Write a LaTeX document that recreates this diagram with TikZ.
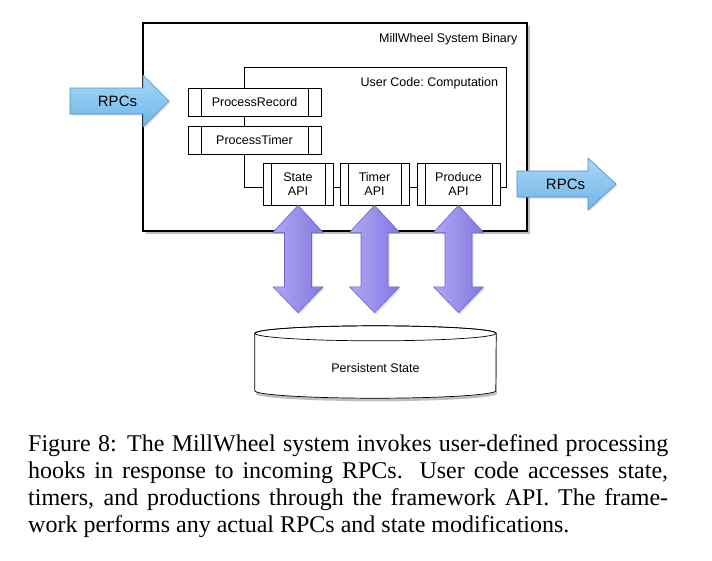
\documentclass[tikz,border=0pt]{standalone}
\usepackage{fontspec}
\setmainfont{Liberation Serif}
\newfontfamily\diagfont{Liberation Sans}
\usepackage{tikz}
\usetikzlibrary{calc}
\usetikzlibrary{shadows}

\definecolor{rpcfill}{HTML}{6DB6E8}
\definecolor{rpctop}{HTML}{A9D7F6}
\definecolor{rpcline}{HTML}{4E8FC6}
\definecolor{apileft}{HTML}{AFA7F3}
\definecolor{apiright}{HTML}{8478E0}
\definecolor{apiline}{HTML}{6E62D2}

\tikzset{
  hook/.style={draw=black, fill=white, line width=0.7pt, inner sep=0pt,
    font=\diagfont\frenchspacing\fontsize{12.5}{14}\selectfont,
    path picture={
      \draw[line width=0.7pt] ([xshift=#1]path picture bounding box.south west) -- ([xshift=#1]path picture bounding box.north west);
      \draw[line width=0.7pt] ([xshift=-#1]path picture bounding box.south east) -- ([xshift=-#1]path picture bounding box.north east);
    }},
  processbox/.style={hook=13pt, minimum width=133pt, minimum height=28pt},
  apibox/.style={hook=8pt, minimum height=42pt, align=center},
  rpcarrow/.style={draw=rpcline, line width=0.6pt, top color=rpctop, bottom color=rpcfill,
    drop shadow={shadow xshift=1.5pt, shadow yshift=-1.5pt, opacity=0.25}},
  apiarrow/.style={draw=apiline, line width=0.6pt, left color=apileft, right color=apiright,
    drop shadow={shadow xshift=1.5pt, shadow yshift=-1.5pt, opacity=0.25}},
  boxlabel/.style={inner sep=0pt, font=\diagfont\frenchspacing\fontsize{12.5}{14}\selectfont},
}

\begin{document}
\begin{tikzpicture}[x=1pt, y=1pt]
            \useasboundingbox[fill=white] (0,0) rectangle (712,-560);

            % Place the binary and the user code frame
            \node[draw=black, fill=white, line width=1.1pt, minimum width=384pt, minimum height=208pt,
              drop shadow={shadow xshift=3pt, shadow yshift=-3pt, opacity=0.5}] (binary) at (335,-127) {};
            \node[boxlabel, anchor=base east] (binarylabel) at ([xshift=-10pt, yshift=-20pt]binary.north east) {MillWheel System Binary};
            \node[draw=black, line width=0.7pt, minimum width=262pt, minimum height=120pt] (usercode) at (375,-127) {};
            \node[boxlabel, anchor=base east] (usercodelabel) at ([xshift=-8pt, yshift=-20pt]usercode.north east) {User Code: Computation};

            % Place the hooks and the APIs
            \node[processbox] (procrecord) at (254.5,-102) {ProcessRecord};
            \node[processbox] (proctimer) at (254.5,-140) {ProcessTimer};
            \node[apibox, minimum width=70pt] (stateapi) at (298,-184) {State\\API};
            \node[apibox, minimum width=69pt] (timerapi) at (374.5,-184) {Timer\\API};
            \node[apibox, minimum width=83pt] (produceapi) at (458.5,-184) {Produce\\API};

            % The RPCs in and out
            \coordinate (rpcintip) at (169,-101);
            \coordinate (rpcouttip) at (616,-184);
            \path[rpcarrow] (rpcintip) -- ++(-26,26) -- ++(0,-13) -- ++(-73,0) -- ++(0,-26) -- ++(73,0) -- ++(0,-13) -- cycle;
            \path[rpcarrow] (rpcouttip) -- ++(-28,26) -- ++(0,-13) -- ++(-71,0) -- ++(0,-26) -- ++(71,0) -- ++(0,-13) -- cycle;
            \node[boxlabel, font=\diagfont\fontsize{15}{17}\selectfont] (rpcin) at (117.5,-101) {RPCs};
            \node[boxlabel, font=\diagfont\fontsize{15}{17}\selectfont] (rpcout) at (565.5,-184) {RPCs};

            % The persistent state
            \node[minimum width=241pt, minimum height=72pt, inner sep=0pt] (store) at (375.5,-362) {};
            \draw[line width=0.7pt, fill=white, drop shadow={shadow xshift=1pt, shadow yshift=-3pt, opacity=0.5}]
              ([yshift=-7.5pt]store.north west) -- ([yshift=7.5pt]store.south west)
              arc[start angle=180, end angle=360, x radius=120.5, y radius=7.5]
              -- ([yshift=-7.5pt]store.north east)
              arc[start angle=0, end angle=180, x radius=120.5, y radius=7.5] -- cycle;
            \draw[line width=0.7pt] ([yshift=-7.5pt]store.north) ellipse[x radius=120.5, y radius=7.5];
            \node[boxlabel] (storelabel) at ([yshift=-6pt]store.center) {Persistent State};

            % The lines!
            \foreach \api in {stateapi,timerapi,produceapi} {
              \path[apiarrow] let \p1=(\api.south), \p2=($(\api.south |- store.north)+(0,13)$) in
                (\p1) -- (\x1+25pt,\y1-27pt) -- (\x1+13.5pt,\y1-27pt) -- (\x1+13.5pt,\y2+26pt)
                -- (\x1+25pt,\y2+26pt) -- (\p2) -- (\x1-25pt,\y2+26pt) -- (\x1-13.5pt,\y2+26pt)
                -- (\x1-13.5pt,\y1-27pt) -- (\x1-25pt,\y1-27pt) -- cycle;
            }

            % The caption
            \node[anchor=north west, text width=640pt, align=justify, inner sep=0pt,
              font=\fontsize{24}{27}\selectfont] (caption) at (28,-434)
              {Figure 8: The MillWheel system invokes user-defined processing\linebreak
               hooks in response to incoming RPCs.  User code accesses state,\linebreak
               timers, and productions through the framework API. The frame-\linebreak
               work performs any actual RPCs and state modifications.};
        \end{tikzpicture}
\end{document}
